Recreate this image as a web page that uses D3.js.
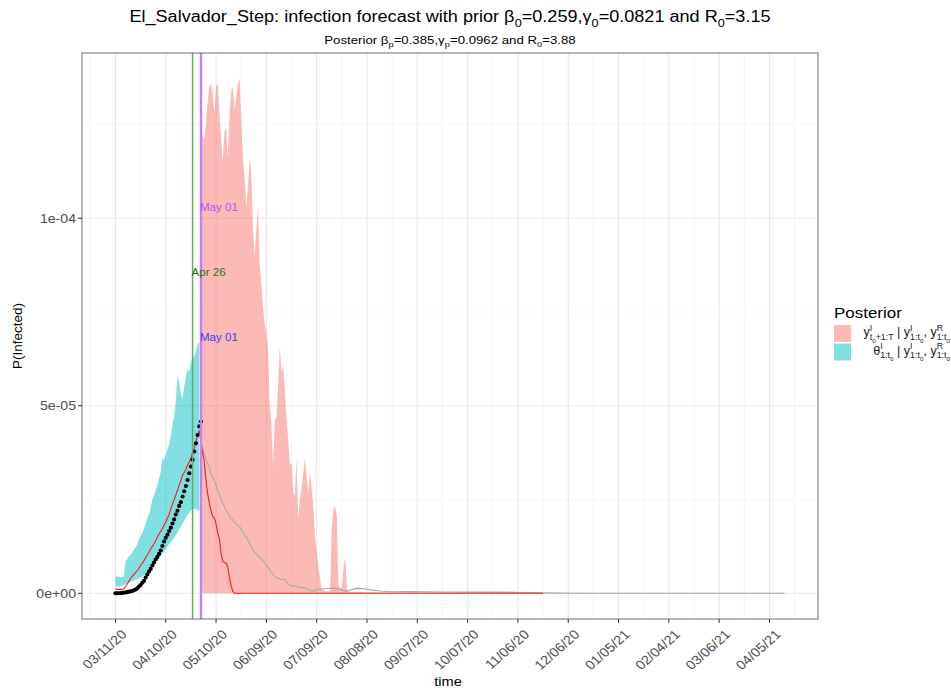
<!DOCTYPE html>
<html>
<head>
<meta charset="utf-8">
<script src="https://cdn.jsdelivr.net/npm/d3@7"></script>
<style>
  body { margin: 0; background: #fff; }
  svg { display: block; }
  text { white-space: pre; }
</style>
</head>
<body>
<svg id="chart" width="951" height="688"></svg>
<script>
// ---------------------------------------------------------------
// Data: all probabilities are given in units of 1e-5.
// Day numbers count from 11 March 2020.
// ---------------------------------------------------------------
const UNIT = 1e-5;
const DAY0 = "2020-03-11";

// Observed infected proportion, one value per day from day 0
const observed = [
  0.00, 0.00, 0.00, 0.00, 0.01, 0.02, 0.02, 0.03, 0.04, 0.05,
  0.06, 0.08, 0.10, 0.13, 0.18, 0.22, 0.28, 0.33, 0.42, 0.50,
  0.58, 0.65, 0.74, 0.82, 0.90, 0.97, 1.05, 1.14, 1.26, 1.38,
  1.48, 1.56, 1.66, 1.75, 1.86, 1.97, 2.10, 2.20, 2.33, 2.43,
  2.58, 2.72, 2.86, 3.02, 3.20, 3.38, 3.56, 3.78, 4.00, 4.22,
  4.45, 4.58
];

// Posterior band of theta (fitted period), one value per day from day 0
const thetaLower = [
  0.18, 0.18, 0.17, 0.18, 0.20, 0.22, 0.24, 0.26, 0.28, 0.30,
  0.32, 0.34, 0.36, 0.38, 0.40, 0.42, 0.45, 0.48, 0.52, 0.56,
  0.60, 0.65, 0.70, 0.76, 0.82, 0.88, 0.94, 1.00, 1.06, 1.12,
  1.18, 1.24, 1.30, 1.36, 1.42, 1.48, 1.55, 1.62, 1.70, 1.78,
  1.86, 1.94, 2.02, 2.10, 2.15, 2.20, 2.25, 2.25, 2.25, 2.22,
  2.20
];
const thetaUpper = [
  0.46, 0.44, 0.45, 0.43, 0.44, 0.45, 0.86, 0.90, 0.98, 1.02,
  1.10, 1.16, 1.22, 1.30, 1.45, 1.52, 1.60, 1.72, 1.85, 2.00,
  2.10, 2.30, 2.50, 2.62, 2.75, 2.90, 3.05, 3.25, 3.60, 3.55,
  3.70, 3.85, 3.95, 4.20, 4.50, 4.70, 5.10, 5.80, 5.60, 5.30,
  5.20, 5.50, 5.75, 6.00, 5.90, 6.15, 6.35, 6.30, 6.45, 6.65,
  6.70
];

// Forecast band: [day, lower, upper]
const forecastBand = [
  [51, 0.15, 12.4], [52, 0.03, 12.2], [53, 0, 12.1], [54, 0, 12.5], [55, 0, 13.1],
  [56, 0, 13.5], [57, 0, 13.6], [58, 0, 13.3], [59, 0, 12.8], [60, 0, 13.5],
  [61, 0, 13.6], [62, 0, 12.8], [63, 0, 12.1], [64, 0, 11.5], [65, 0, 12.3],
  [66, 0, 12.4], [67, 0, 11.6], [68, 0, 12.7], [69, 0, 13.4], [70, 0, 13.5],
  [71, 0, 12.9], [72, 0, 13.2], [73, 0, 13.6], [74, 0, 13.72], [75, 0, 12.7],
  [76, 0, 11.6], [77, 0, 11.1], [78, 0, 10.3], [79, 0, 10.8], [80, 0, 11.6],
  [81, 0, 11.2], [82, 0, 9.7], [83, 0, 9.0], [84, 0, 9.7], [85, 0, 10.3],
  [86, 0, 8.8], [87, 0, 8.2], [88, 0, 7.6], [89, 0, 7.2], [90, 0, 6.9],
  [91, 0, 6.5], [92, 0, 5.0], [93, 0, 4.5], [94, 0, 3.4], [95, 0, 4.6],
  [96, 0, 4.7], [97, 0, 5.5], [98, 0, 6.6], [99, 0, 5.9], [100, 0, 6.1],
  [101, 0, 5.4], [102, 0, 4.7], [103, 0, 4.1], [104, 0, 3.4], [105, 0, 3.5],
  [106, 0, 2.7], [107, 0, 2.6], [108, 0, 3.6], [109, 0, 2.0], [110, 0, 2.5],
  [111, 0, 2.8], [112, 0, 3.2], [113, 0, 3.6], [114, 0, 3.1], [115, 0, 2.7],
  [116, 0, 3.2], [117, 0, 2.8], [118, 0, 2.3], [119, 0, 1.5], [120, 0, 1.1],
  [121, 0, 0.7], [122, 0, 0.4], [123, 0, 0.13], [124, 0, 0.08], [125, 0, 0.05],
  [126, 0, 0.06], [127, 0, 0.05], [128, 0, 0.1], [129, 0, 1.7], [130, 0, 2.25],
  [131, 0, 2.3], [132, 0, 2.06], [133, 0, 0.22], [134, 0, 0.15], [135, 0, 0.13],
  [136, 0, 0.68], [137, 0, 0.96], [138, 0, 0.13], [139, 0, 0.05], [140, 0, 0.04],
  [150, 0, 0.03], [160, 0, 0.02], [180, 0, 0.03], [200, 0, 0.02], [220, 0, 0.03],
  [235, 0, 0.04], [245, 0, 0.03], [255, 0, 0.0]
];

// Posterior mean (red): [day, value]
const meanLine = [
  [0, 0.11], [1, 0.11], [2, 0.10], [3, 0.11], [4, 0.10], [5, 0.12], [6, 0.18], [7, 0.24],
  [8, 0.32], [9, 0.40], [10, 0.45], [11, 0.50], [12, 0.55], [13, 0.60], [14, 0.66], [15, 0.74],
  [16, 0.80], [17, 0.87], [18, 0.95], [19, 1.02], [20, 1.10], [21, 1.18], [22, 1.25], [23, 1.32],
  [24, 1.40], [25, 1.50], [26, 1.58], [27, 1.65], [28, 1.72], [29, 1.82], [30, 1.90], [31, 2.00],
  [32, 2.10], [33, 2.25], [34, 2.38], [35, 2.50], [36, 2.62], [37, 2.75], [38, 2.88], [39, 3.00],
  [40, 3.15], [41, 3.22], [42, 3.30], [43, 3.42], [44, 3.50], [45, 3.60], [46, 3.75], [47, 3.88],
  [48, 4.05], [49, 4.20], [50, 4.35], [51, 4.05], [52, 3.75], [53, 3.50], [54, 3.00], [55, 2.65],
  [56, 2.40], [57, 2.20], [58, 2.05], [59, 2.00], [60, 1.85], [61, 1.60], [62, 1.45], [63, 1.05],
  [64, 0.85], [65, 0.82], [66, 0.80], [67, 0.70], [68, 0.40], [69, 0.20], [70, 0.05], [71, 0.00],
  [255, 0.00]
];

// Forecast median (grey): [day, value]
const medianLine = [
  [51, 4.05], [52, 3.85], [53, 3.70], [54, 3.55], [55, 3.45], [56, 3.35], [57, 3.20], [58, 3.10],
  [59, 3.00], [60, 2.88], [61, 2.75], [62, 2.62], [63, 2.50], [64, 2.40], [65, 2.30], [66, 2.22],
  [67, 2.15], [68, 2.05], [69, 2.00], [70, 1.95], [71, 1.90], [72, 1.85], [73, 1.80], [74, 1.78],
  [75, 1.70], [76, 1.62], [77, 1.55], [78, 1.50], [79, 1.42], [80, 1.33], [81, 1.25], [82, 1.15],
  [83, 1.10], [84, 1.05], [85, 1.00], [86, 0.96], [87, 0.92], [88, 0.86], [89, 0.80], [90, 0.75],
  [91, 0.70], [92, 0.62], [93, 0.56], [94, 0.50], [95, 0.45], [96, 0.42], [97, 0.40], [98, 0.38],
  [99, 0.36], [100, 0.38], [101, 0.36], [102, 0.30], [103, 0.25], [104, 0.22], [105, 0.20], [106, 0.18],
  [107, 0.20], [108, 0.19], [109, 0.15], [110, 0.14], [111, 0.16], [112, 0.15], [113, 0.14], [114, 0.12],
  [115, 0.10], [116, 0.08], [117, 0.06], [118, 0.06], [119, 0.08], [120, 0.10], [125, 0.12], [130, 0.14],
  [134, 0.10], [138, 0.05], [141, 0.10], [144, 0.13], [148, 0.12], [152, 0.09], [158, 0.06], [165, 0.04],
  [175, 0.045], [185, 0.04], [195, 0.035], [205, 0.03], [215, 0.035], [225, 0.03], [235, 0.025],
  [245, 0.02], [255, 0.01], [265, 0.005], [280, 0.0], [399, 0.0]
];

// Axis ticks
const xTickLabels = ["03/11/20", "04/10/20", "05/10/20", "06/09/20", "07/09/20", "08/08/20",
  "09/07/20", "10/07/20", "11/06/20", "12/06/20", "01/05/21", "02/04/21", "03/06/21", "04/05/21"];
const yTickValues = [0, 5e-5, 1e-4];
const yTickLabels = ["0e+00", "5e-05", "1e-04"];

// Reference dates marked by vertical lines
const markers = [
  { date: "2020-04-26", label: "Apr 26", line: "#5fae5f", text: "#2f6d22", width: 1.4, at: 8.56e-5 },
  { date: "2020-05-01", label: "May 01", line: "#c77cff", text: "#b84dff", width: 2.4, at: 1.03e-4 }
];
const extraLabels = [
  { date: "2020-05-01", label: "May 01", text: "#3b3bf0", at: 6.83e-5 }
];

// ---------------------------------------------------------------
const FONT = "'Liberation Sans', Arial, Helvetica, sans-serif";
const SX = 1.13;           // horizontal stretch applied to text glyphs
const parseISO = d3.timeParse("%Y-%m-%d");
const parseTick = d3.timeParse("%m/%d/%y");
const start = parseISO(DAY0);
const dayDate = d => d3.timeDay.offset(start, d);

const svg = d3.select("#chart");
const panel = { left: 82, right: 818, top: 53, bottom: 619 };

// Plain text with horizontal stretch
function label(parent, str, px, py, size, anchor, fill, sx = SX) {
  return parent.append("text")
    .attr("transform", `translate(${px},${py}) scale(${sx},1)`)
    .attr("text-anchor", anchor).attr("font-family", FONT).attr("font-size", size)
    .attr("fill", fill).text(str);
}

// Build series
const obsData = observed.map((v, i) => ({ date: dayDate(i), v: v * UNIT }));
const thetaData = thetaLower.map((v, i) => ({ date: dayDate(i), lo: v * UNIT, hi: thetaUpper[i] * UNIT }));
const fcData = forecastBand.map(([d, lo, hi]) => ({ date: dayDate(d), lo: lo * UNIT, hi: hi * UNIT }));
const meanData = meanLine.map(([d, v]) => ({ date: dayDate(d), v: v * UNIT }));
const medData = medianLine.map(([d, v]) => ({ date: dayDate(d), v: v * UNIT }));

// Scales with 5% expansion on each side
const allDates = [...obsData, ...thetaData, ...fcData, ...meanData, ...medData].map(d => d.date);
const [dMin, dMax] = d3.extent(allDates);
const span = dMax - dMin;
const x = d3.scaleTime()
  .domain([new Date(+dMin - 0.05 * span), new Date(+dMax + 0.05 * span)])
  .range([panel.left, panel.right]);

const yMax = d3.max([...fcData.map(d => d.hi), ...thetaData.map(d => d.hi), ...obsData.map(d => d.v)]);
const y = d3.scaleLinear()
  .domain([-0.05 * yMax, yMax * 1.05])
  .range([panel.bottom, panel.top]);

// Grid
const xTicks = xTickLabels.map(parseTick);
const step = xTicks[1] - xTicks[0];
const xMinor = [];
for (let i = -1; i < xTicks.length; i++) {
  const base = i < 0 ? +xTicks[0] - step : +xTicks[i];
  xMinor.push(new Date(base + step / 2));
}
const yMinor = [2.5e-5, 7.5e-5, 1.25e-4];

const grid = svg.append("g");
grid.selectAll(".xmin").data(xMinor.filter(d => x(d) > panel.left && x(d) < panel.right))
  .join("line").attr("x1", d => x(d)).attr("x2", d => x(d))
  .attr("y1", panel.top).attr("y2", panel.bottom)
  .attr("stroke", "#f2f2f2").attr("stroke-width", 0.8);
grid.selectAll(".ymin").data(yMinor)
  .join("line").attr("y1", d => y(d)).attr("y2", d => y(d))
  .attr("x1", panel.left).attr("x2", panel.right)
  .attr("stroke", "#f2f2f2").attr("stroke-width", 0.8);
grid.selectAll(".xmaj").data(xTicks)
  .join("line").attr("x1", d => x(d)).attr("x2", d => x(d))
  .attr("y1", panel.top).attr("y2", panel.bottom)
  .attr("stroke", "#e8e8e8").attr("stroke-width", 1.1);
grid.selectAll(".ymaj").data(yTickValues)
  .join("line").attr("y1", d => y(d)).attr("y2", d => y(d))
  .attr("x1", panel.left).attr("x2", panel.right)
  .attr("stroke", "#e8e8e8").attr("stroke-width", 1.1);

// Bands
const plot = svg.append("g");
plot.append("path").datum(thetaData)
  .attr("fill", "#00bfc4").attr("fill-opacity", 0.5)
  .attr("d", d3.area().x(d => x(d.date)).y0(d => y(d.lo)).y1(d => y(d.hi)));
plot.append("path").datum(fcData)
  .attr("fill", "#f8766d").attr("fill-opacity", 0.5)
  .attr("d", d3.area().x(d => x(d.date)).y0(d => y(d.lo)).y1(d => y(d.hi)));

// Lines
const line = d3.line().x(d => x(d.date)).y(d => y(d.v));
plot.append("path").datum(medData)
  .attr("fill", "none").attr("stroke", "#a8a8a8").attr("stroke-width", 1.1).attr("d", line);
plot.append("path").datum(meanData)
  .attr("fill", "none").attr("stroke", "#ff1a1a").attr("stroke-width", 1.1).attr("d", line);

// Observed points
plot.selectAll("circle").data(obsData).join("circle")
  .attr("cx", d => x(d.date)).attr("cy", d => y(d.v)).attr("r", 2.1).attr("fill", "#000");

// Vertical marker lines and labels
markers.forEach(m => {
  const xd = x(parseISO(m.date));
  plot.append("line").attr("x1", xd).attr("x2", xd).attr("y1", panel.top).attr("y2", panel.bottom)
    .attr("stroke", m.line).attr("stroke-width", m.width);
});
[...markers, ...extraLabels].forEach(m => {
  const xd = x(parseISO(m.date));
  label(plot, m.label, xd - 1, y(m.at) + 4, 11, "start", m.text, 1.05);
});

// Panel border
svg.append("rect").attr("x", panel.left).attr("y", panel.top)
  .attr("width", panel.right - panel.left).attr("height", panel.bottom - panel.top)
  .attr("fill", "none").attr("stroke", "#6e6e6e").attr("stroke-width", 1);

// Axes
const axisCol = "#4d4d4d";
const xAxis = svg.append("g");
xTicks.forEach((t, i) => {
  const xp = x(t);
  xAxis.append("line").attr("x1", xp).attr("x2", xp).attr("y1", panel.bottom).attr("y2", panel.bottom + 4)
    .attr("stroke", "#333").attr("stroke-width", 1);
  xAxis.append("text")
    .attr("transform", `translate(${xp + 5},${panel.bottom + 10}) scale(${SX},1) rotate(-45)`)
    .attr("text-anchor", "end").attr("dy", "0.7em")
    .attr("font-family", FONT).attr("font-size", 12.8).attr("fill", axisCol)
    .text(xTickLabels[i]);
});
const yAxis = svg.append("g");
yTickValues.forEach((v, i) => {
  const yp = y(v);
  yAxis.append("line").attr("x1", panel.left - 4).attr("x2", panel.left).attr("y1", yp).attr("y2", yp)
    .attr("stroke", "#333").attr("stroke-width", 1);
  label(yAxis, yTickLabels[i], panel.left - 6, yp + 4.5, 12.5, "end", axisCol);
});
label(svg, "time", (panel.left + panel.right) / 2 - 2, 686, 13, "middle", "#000");
svg.append("text").attr("transform", `translate(22,${(panel.top + panel.bottom) / 2}) rotate(-90)`)
  .attr("text-anchor", "middle").attr("font-family", FONT).attr("font-size", 13.5).attr("fill", "#000")
  .text("P(Infected)");

// Text with sub/superscripts laid out piece by piece
function mathText(parent, parts, px, py, size, anchor, fill, sx = SX) {
  const g = parent.append("g");
  const inner = g.append("g");
  const lv = { "0": [1, 0], "1": [0.7, -0.42], "-1": [0.7, 0.3], "-2": [0.5, 0.55] };
  let cursor = 0, prevStart = 0, prevEnd = 0;
  parts.forEach(p => {
    const [k, off] = lv[String(p.l || 0)];
    const sxp = p.stack ? prevStart : cursor;
    const t = inner.append("text").attr("x", sxp).attr("y", off * size)
      .attr("font-family", FONT).attr("font-size", size * k).attr("fill", fill).text(p.t);
    const w = t.node().getComputedTextLength();
    const ex = sxp + w;
    cursor = p.stack ? Math.max(prevEnd, ex) : ex;
    prevStart = sxp; prevEnd = ex;
  });
  const dx = anchor === "middle" ? -cursor / 2 : anchor === "end" ? -cursor : 0;
  inner.attr("transform", `translate(${dx},0)`);
  g.attr("transform", `translate(${px},${py}) scale(${sx},1)`);
  return g;
}

// Titles
const cx = (panel.left + panel.right) / 2;
mathText(svg, [
  { t: "El_Salvador_Step: infection forecast with prior β" }, { t: "0", l: -1 },
  { t: "=0.259,γ" }, { t: "0", l: -1 }, { t: "=0.0821 and R" }, { t: "0", l: -1 }, { t: "=3.15" }
], cx, 22, 16, "middle", "#000");
mathText(svg, [
  { t: "Posterior β" }, { t: "p", l: -1 }, { t: "=0.385,γ" }, { t: "p", l: -1 },
  { t: "=0.0962 and R" }, { t: "0", l: -1 }, { t: "=3.88" }
], cx, 44, 11.5, "middle", "#000", 1.15);

// Legend
const lg = svg.append("g");
label(lg, "Posterior", 834, 318, 15, "start", "#000");
const keys = [
  { fill: "#f8766d", parts: [
    { t: "y" }, { t: "I", l: 1 }, { t: "t", l: -1, stack: true }, { t: "0", l: -2 }, { t: "+1:T", l: -1 },
    { t: " | y" }, { t: "I", l: 1 }, { t: "1:t", l: -1, stack: true }, { t: "0", l: -2 },
    { t: ", y" }, { t: "R", l: 1 }, { t: "1:t", l: -1, stack: true }, { t: "0", l: -2 }
  ] },
  { fill: "#00bfc4", parts: [
    { t: "θ" }, { t: "I", l: 1 }, { t: "1:t", l: -1, stack: true }, { t: "0", l: -2 },
    { t: " | y" }, { t: "I", l: 1 }, { t: "1:t", l: -1, stack: true }, { t: "0", l: -2 },
    { t: ", y" }, { t: "R", l: 1 }, { t: "1:t", l: -1, stack: true }, { t: "0", l: -2 }
  ] }
];
keys.forEach((k, i) => {
  const ky = 325 + i * 18.5;
  lg.append("rect").attr("x", 834).attr("y", ky).attr("width", 17).attr("height", 17)
    .attr("fill", k.fill).attr("fill-opacity", 0.5);
  mathText(lg, k.parts, 950, ky + 11, 12, "end", "#1a1a1a", 1.05);
});
</script>
</body>
</html>
